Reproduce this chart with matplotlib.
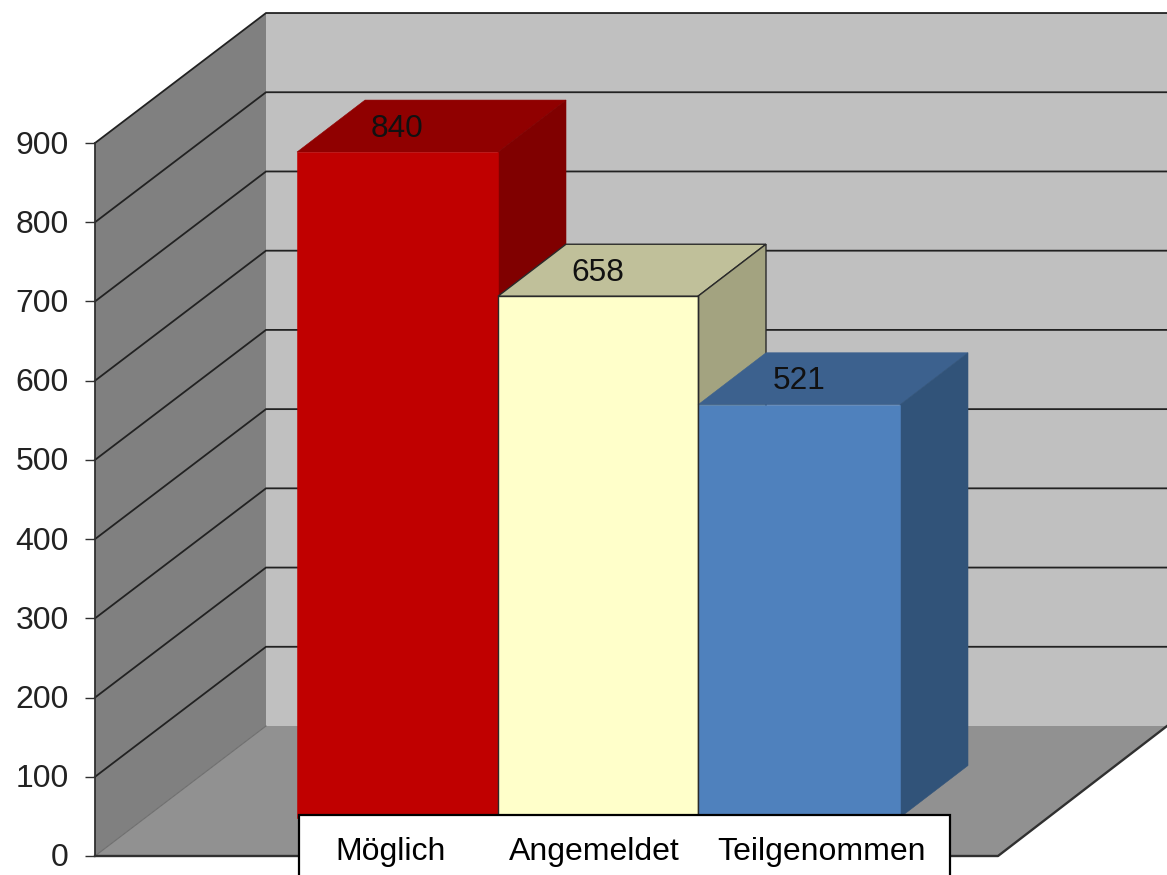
import matplotlib
matplotlib.use("Agg")
from matplotlib import pyplot as plt
from matplotlib.patches import Polygon, Rectangle
from matplotlib.transforms import ScaledTranslation

categories = ["Möglich", "Angemeldet", "Teilgenommen"]
values = [840, 658, 521]
value_ticks = [0, 100, 200, 300, 400, 500, 600, 700, 800, 900]

bar_faces = ["#C00000", "#FFFFCA", "#4F81BD"]
bar_tops = ["#900000", "#C0C09A", "#3C618E"]
bar_sides = ["#800000", "#A3A380", "#315379"]
outlined = [False, True, False]

px_per_unit = 0.7922
y_floor_px = 856


def units(px):
    # pixel height above the front floor edge, in value units
    return px / px_per_unit


depth_x, depth_y = 171, units(130)
bar_depth_x, bar_depth_y = 68, units(52)
bar_base = units(38.5)
bar_edges = [297, 498, 698, 900]
label_x = [391, 594, 821]
x_axis, x_floor_end, x_wall_end = 95, 998, 1167

plt.rcParams["font.family"] = ["Liberation Sans", "DejaVu Sans"]

fig = plt.figure(figsize=(11.67, 8.75), dpi=100)
ax = fig.add_axes([0, 0, 1, 1])
ax.set_xlim(0, 1167)
ax.set_ylim(units(y_floor_px - 875), units(y_floor_px))

top = value_ticks[-1]

# walls and floor
ax.add_patch(Polygon([(x_axis + depth_x, depth_y), (x_wall_end, depth_y),
                      (x_wall_end, top + depth_y), (x_axis + depth_x, top + depth_y)],
                     facecolor="#C0C0C0", edgecolor="none", zorder=1))
ax.add_patch(Polygon([(x_axis, 0), (x_axis + depth_x, depth_y),
                      (x_axis + depth_x, top + depth_y), (x_axis, top)],
                     facecolor="#808080", edgecolor="none", zorder=1))
ax.add_patch(Polygon([(x_axis, 0), (x_floor_end, 0), (x_wall_end, depth_y),
                      (x_axis + depth_x, depth_y)],
                     facecolor="#919191", edgecolor="none", zorder=1))

# gridlines run along the side wall and then across the back wall
for v in value_ticks[1:]:
    ax.plot([x_axis, x_axis + depth_x, x_wall_end], [v, v + depth_y, v + depth_y],
            color="#222222", lw=1.3, zorder=2, solid_joinstyle="miter")
ax.plot([x_axis, x_axis + depth_x], [0, depth_y], color="#6E6E6E", lw=0.8, zorder=2)
ax.plot([x_axis, x_floor_end, x_wall_end], [0, 0, depth_y], color="#303030", lw=1.7, zorder=2)

# bars: front face from ax.bar, top and side faces offset by the bar depth
for i, v in enumerate(values):
    left, right = bar_edges[i], bar_edges[i + 1]
    y_top = bar_base + v
    ax.add_patch(Polygon([(left, y_top), (right, y_top),
                          (right + bar_depth_x, y_top + bar_depth_y),
                          (left + bar_depth_x, y_top + bar_depth_y)],
                         facecolor=bar_tops[i],
                         edgecolor="#2A2A2A" if outlined[i] else bar_tops[i],
                         lw=1.0 if outlined[i] else 0.4, zorder=3 + i))
    ax.add_patch(Polygon([(right, bar_base), (right + bar_depth_x, bar_base + bar_depth_y),
                          (right + bar_depth_x, y_top + bar_depth_y), (right, y_top)],
                         facecolor=bar_sides[i],
                         edgecolor="#2A2A2A" if outlined[i] else bar_sides[i],
                         lw=1.0 if outlined[i] else 0.4, zorder=3 + i))
    ax.bar(left, v, width=right - left, bottom=bar_base, align="edge", color=bar_faces[i],
           edgecolor="#2A2A2A" if outlined[i] else bar_faces[i],
           lw=1.0 if outlined[i] else 0.4, zorder=3 + i)
    ax.text((left + right) / 2, y_top + units(23.5), str(v), ha="center", va="center",
            fontsize=22.8, color="#111111", zorder=8)

# the pale bar's right edge stays visible against the blue bar
ax.plot([bar_edges[2], bar_edges[2]], [bar_base, bar_base + values[1]],
        color="#2A2A2A", lw=1.0, zorder=7)

# category box sits over the foot of the bars
ax.add_patch(Rectangle((299, units(y_floor_px - 885)), 651, units(70),
                       facecolor="white", edgecolor="black", lw=1.6, zorder=9))
for x, name in zip(label_x, categories):
    ax.text(x, units(y_floor_px - 852), name, ha="center", va="center",
            fontsize=23, color="black", zorder=10)

for name in ["top", "right", "bottom"]:
    ax.spines[name].set_visible(False)
ax.spines["left"].set_position(("data", x_axis))
ax.spines["left"].set_bounds(0, top)
ax.spines["left"].set_color("#303030")
ax.spines["left"].set_linewidth(1.3)
ax.spines["left"].set_zorder(3)
ax.set_xticks([])
ax.set_yticks(value_ticks)
ax.tick_params(axis="y", length=7.5, width=1.0, color="#303030", pad=11.5,
               labelsize=23, labelcolor="#222222")
nudge = ScaledTranslation(0, 1 / 100, fig.dpi_scale_trans)
for label in ax.get_yticklabels():
    label.set_transform(label.get_transform() + nudge)

fig.savefig("out.png", dpi=100, facecolor="white")
